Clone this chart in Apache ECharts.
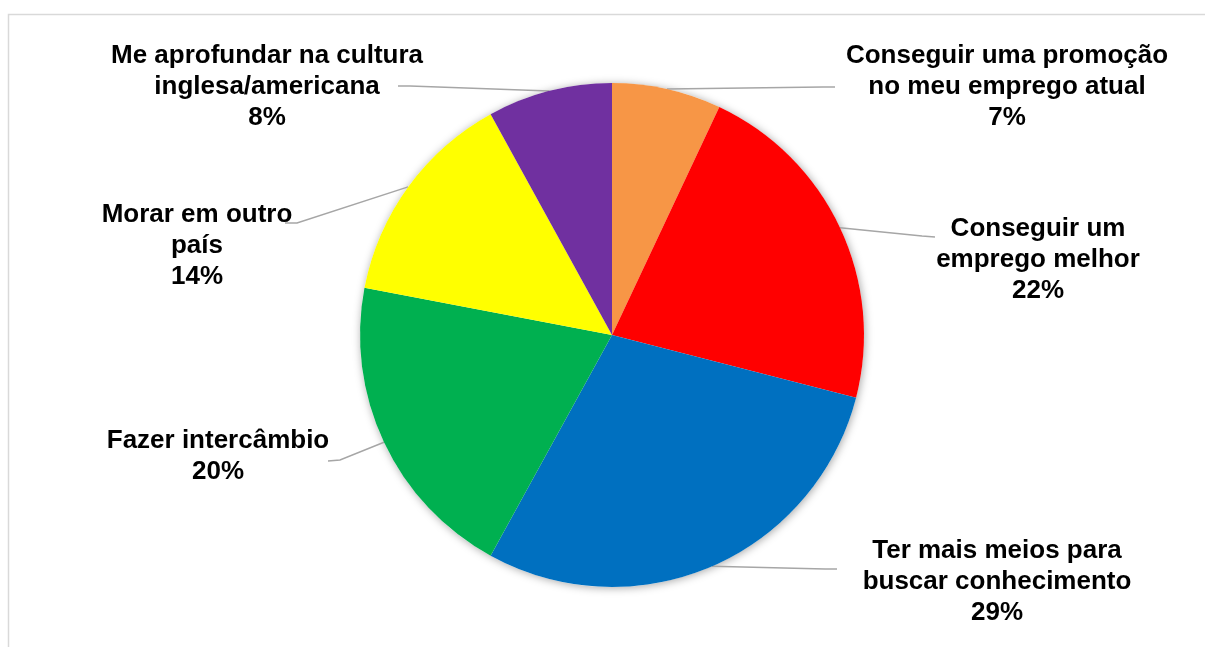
<!DOCTYPE html>
<html>
<head>
<meta charset="utf-8">
<script src="https://cdn.jsdelivr.net/npm/echarts@6/dist/echarts.min.js"></script>
<style>
  html, body { margin: 0; padding: 0; background: #ffffff; }
  #chart { width: 1205px; height: 647px; }
</style>
</head>
<body>
<div id="chart"></div>
<script>
// Motivos para aprender inglês (percentual das respostas)
const categories = [
  'Conseguir uma promoção\nno meu emprego atual',
  'Conseguir um\nemprego melhor',
  'Ter mais meios para\nbuscar conhecimento',
  'Fazer intercâmbio',
  'Morar em outro\npaís',
  'Me aprofundar na cultura\ninglesa/americana'
];
const values = [7, 22, 29, 20, 14, 8];
const colors = ['#F79646', '#FF0000', '#0070C0', '#00B050', '#FFFF00', '#7030A0'];

// Label placement: text block centre and leader-line elbow/end point
const labelCentres = [[1007, 87], [1038, 260], [997, 582], [218, 456], [197, 246], [267, 87]];
const leaderElbows = [[823, 87], [922, 236], [825, 569], [340, 460], [297, 223], [410, 86]];
const leaderEnds = [[835, 87], [935, 237], [837, 569], [328, 461], [285, 223], [398, 86]];

const chart = echarts.init(document.getElementById('chart'), null, { renderer: 'canvas' });

const total = values.reduce((a, b) => a + b, 0);
const center = [612, 335];
const radius = 252;

chart.setOption({
  backgroundColor: '#ffffff',
  animation: false,
  graphic: [{
    type: 'rect',
    silent: true,
    shape: { x: 8.5, y: 14.5, width: 1400, height: 800 },
    style: { fill: 'none', stroke: '#d9d9d9', lineWidth: 1.5 }
  }],
  series: [
    {
      // soft drop shadow under the whole pie
      type: 'pie',
      silent: true,
      z: 1,
      center: center,
      radius: radius,
      startAngle: 90,
      label: { show: false },
      labelLine: { show: false },
      itemStyle: {
        color: '#ffffff',
        shadowBlur: 9,
        shadowColor: 'rgba(0,0,0,0.35)',
        shadowOffsetX: 1,
        shadowOffsetY: 1
      },
      data: [{ value: total, name: '' }]
    },
    {
      type: 'pie',
      z: 2,
      center: center,
      radius: radius,
      startAngle: 90,
      clockwise: true,
      avoidLabelOverlap: false,
      itemStyle: { borderWidth: 0 },
      emphasis: { disabled: true },
      data: categories.map((name, i) => ({
        name: name,
        value: values[i],
        itemStyle: { color: colors[i] }
      })),
      label: {
        show: true,
        position: 'outside',
        formatter: p => p.name + '\n' + p.value + '%',
        fontFamily: '"Liberation Sans", Arial, sans-serif',
        fontWeight: 'bold',
        fontSize: 26,
        lineHeight: 31,
        color: '#000000',
        align: 'center'
      },
      labelLine: {
        show: true,
        length: 20,
        length2: 20,
        lineStyle: { color: '#a6a6a6', width: 1.5 }
      },
      labelLayout: function (params) {
        const i = params.dataIndex;
        const start = params.labelLinePoints ? params.labelLinePoints[0] : leaderElbows[i];
        return {
          x: labelCentres[i][0],
          y: labelCentres[i][1],
          align: 'center',
          verticalAlign: 'middle',
          labelLinePoints: [start, leaderElbows[i], leaderEnds[i]]
        };
      }
    }
  ]
});
</script>
</body>
</html>
